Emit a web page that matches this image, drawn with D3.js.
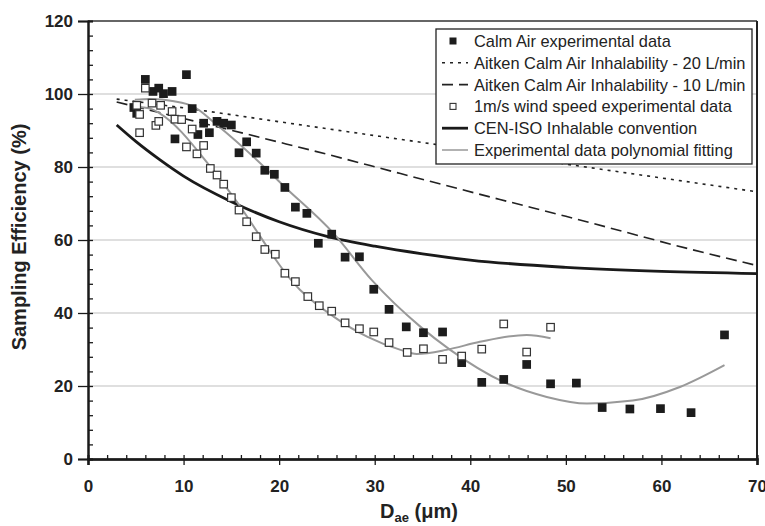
<!DOCTYPE html>
<html>
<head>
<meta charset="utf-8">
<script src="https://cdn.jsdelivr.net/npm/d3@7"></script>
<style>
  body { margin: 0; background: #fff; }
  svg { display: block; font-family: "Liberation Sans", Arial, sans-serif; }
  .tick text { font-weight: bold; font-size: 17px; fill: #222; }
</style>
</head>
<body>
<div id="chart"></div>
<script>
// calm air experimental data [Dae, efficiency]
var calmAir = [[4.8,96.3],[5.1,94.7],[6.0,104],[6.8,100.7],[7.4,101.6],[7.9,100.1],[8.8,100.7],[9.1,87.7],
  [10.3,105.3],[10.9,96],[11.5,88.9],[12.1,92],[12.7,89.4],[13.5,92.5],[14.2,92],[15.0,91.5],[15.8,83.9],
  [16.6,86.9],[17.6,83.8],[18.5,79.1],[19.5,78],[20.6,74.4],[21.7,69],[22.9,67.3],[24.1,59.1],[25.5,61.6],
  [26.9,55.3],[28.4,55.4],[29.9,46.5],[31.5,41],[33.3,36.2],[35.1,34.6],[37.1,34.8],[39.1,26.4],[41.2,21],
  [43.5,21.8],[45.9,25.9],[48.4,20.6],[51.1,20.8],[53.8,14.1],[56.7,13.7],[59.9,13.8],[63.1,12.7],[66.6,34]];

// 1 m/s wind speed experimental data
var windSpeed = [[5.1,96.9],[5.4,94.4],[5.4,89.4],[6.0,101.6],[6.7,97.5],[7.1,91.4],[7.4,92.5],[7.6,96.9],
  [8.8,95.2],[9.1,93.1],[9.8,93.0],[10.3,85.5],[10.9,90.4],[11.4,83.6],[12.1,85.9],[12.8,79.6],[13.5,77.8],
  [14.2,75.3],[15.0,71.6],[15.8,68.2],[16.6,65],[17.6,60.9],[18.5,57.4],[19.6,56.1],[20.6,50.9],[21.7,48.6],
  [23.0,44.5],[24.2,42],[25.5,40.5],[26.9,37.3],[28.4,35.7],[29.9,34.8],[31.5,31.9],[33.4,29.2],[35.1,30.2],
  [37.1,27.3],[39.1,28.2],[41.2,30.1],[43.5,37],[45.9,29.3],[48.4,36.1]];

// curves
var aitken20 = [[3,98.6],[10,96.2],[20,92.4],[30,88.6],[40,84.8],[50,80.8],[60,77],[70,73.2]];
var aitken10 = [[3,97.8],[10,93.3],[20,86.8],[23.2,84.7],[32.7,78.2],[43.1,71.1],[50,66.5],[63.3,57.3],[70,53]];
var cenIso = [[3,91.5],[5,87],[7.5,82],[10,77.5],[15,70.5],[20,65],[25,61],[30,58.3],[35,56.2],[40,54.5],
  [50,52.5],[60,51.4],[70,50.8]];
var calmFit = [[4.9,98.4],[6.5,98.6],[9,98],[11,96.6],[13.5,91.5],[18.4,80.1],[20.4,75],[25.7,61.8],[29.7,49],
  [34.8,36.2],[37.9,29.9],[43.4,21.2],[48,17],[52.2,15.2],[57,16],[62,19.8],[66.6,25.7]];
var windFit = [[4.9,96.5],[6.5,96],[7.5,94.7],[12.8,80.1],[15.2,71.8],[22.2,46.3],[25.7,39],[29.2,33.5],
  [32.7,29.9],[34.4,28.8],[37.5,29.9],[41,32.1],[45.9,34],[48.4,33.1]];

var xTicks = [0, 10, 20, 30, 40, 50, 60, 70];
var yTicks = [0, 20, 40, 60, 80, 100, 120];
var legendLabels = ["Calm Air experimental data", "Aitken Calm Air Inhalability - 20 L/min",
  "Aitken Calm Air Inhalability - 10 L/min", "1m/s wind speed experimental data",
  "CEN-ISO Inhalable convention", "Experimental data polynomial fitting"];

var width = 765, height = 526;
var svg = d3.select("#chart").append("svg")
  .attr("width", width)
  .attr("height", height);

var x = d3.scaleLinear().domain([0, 70]).range([88, 757]);
var y = d3.scaleLinear().domain([0, 120]).range([459, 21]);

// gridlines
svg.append("g")
  .selectAll("line")
  .data(yTicks.filter(function(d) { return d > 0 && d < 120; }))
  .enter().append("line")
  .attr("x1", x(0)).attr("x2", x(70))
  .attr("y1", function(d) { return y(d); })
  .attr("y2", function(d) { return y(d); })
  .attr("stroke", "#d4d4d4")
  .attr("stroke-width", 1.6);

// frame top and right
svg.append("line")
  .attr("x1", x(0)).attr("x2", x(70)).attr("y1", y(120)).attr("y2", y(120))
  .attr("stroke", "#333").attr("stroke-width", 1.5);
svg.append("line")
  .attr("x1", x(70)).attr("x2", x(70)).attr("y1", y(120)).attr("y2", y(0))
  .attr("stroke", "#222").attr("stroke-width", 2);

var line = d3.line()
  .x(function(d) { return x(d[0]); })
  .y(function(d) { return y(d[1]); })
  .curve(d3.curveMonotoneX);

svg.append("path").datum(aitken20)
  .attr("fill", "none").attr("stroke", "#222").attr("stroke-width", 1.6)
  .attr("stroke-dasharray", "3,5").attr("d", line);
svg.append("path").datum(aitken10)
  .attr("fill", "none").attr("stroke", "#222").attr("stroke-width", 1.6)
  .attr("stroke-dasharray", "11,6").attr("d", line);
svg.append("path").datum(cenIso)
  .attr("fill", "none").attr("stroke", "#1a1a1a").attr("stroke-width", 2.8).attr("d", line);
[calmFit, windFit].forEach(function(fit) {
  svg.append("path").datum(fit)
    .attr("fill", "none").attr("stroke", "#999").attr("stroke-width", 2).attr("d", line);
});

// data points
var filled = 8.7, open = 7.5;
svg.append("g").selectAll("rect")
  .data(calmAir)
  .enter().append("rect")
  .attr("x", function(d) { return x(d[0]) - filled / 2; })
  .attr("y", function(d) { return y(d[1]) - filled / 2; })
  .attr("width", filled).attr("height", filled)
  .attr("fill", "#1c1c1c");
svg.append("g").selectAll("rect")
  .data(windSpeed)
  .enter().append("rect")
  .attr("x", function(d) { return x(d[0]) - open / 2; })
  .attr("y", function(d) { return y(d[1]) - open / 2; })
  .attr("width", open).attr("height", open)
  .attr("fill", "#fff").attr("stroke", "#333").attr("stroke-width", 1.2);

// axes: major ticks with labels, minor ticks inside
var xAxis = svg.append("g")
  .attr("transform", "translate(0," + y(0) + ")")
  .call(d3.axisBottom(x).tickValues(xTicks).tickSize(6).tickPadding(15));
svg.append("g")
  .attr("transform", "translate(0," + y(0) + ")")
  .call(d3.axisTop(x).tickValues(d3.range(0, 71, 2)).tickSize(4).tickFormat(""));
var yAxis = svg.append("g")
  .attr("transform", "translate(" + x(0) + ",0)")
  .call(d3.axisLeft(y).tickValues(yTicks).tickSize(10).tickPadding(5));
svg.append("g")
  .attr("transform", "translate(" + x(0) + ",0)")
  .call(d3.axisRight(y).tickValues(d3.range(0, 121, 4)).tickSize(5).tickFormat(""));

svg.selectAll(".domain").attr("stroke", "#1a1a1a").attr("stroke-width", 2);
svg.selectAll(".tick line").attr("stroke", "#1a1a1a").attr("stroke-width", 1.3);
xAxis.select(".domain").attr("stroke-width", 2.6);

// axis titles
svg.append("text")
  .attr("transform", "translate(26,237) rotate(-90)")
  .attr("text-anchor", "middle")
  .attr("font-size", 20).attr("font-weight", "bold").attr("fill", "#222")
  .text("Sampling Efficiency (%)");

var xTitle = svg.append("text")
  .attr("x", 419).attr("y", 518)
  .attr("text-anchor", "middle")
  .attr("font-size", 20).attr("font-weight", "bold").attr("fill", "#222");
xTitle.append("tspan").text("D");
xTitle.append("tspan").attr("font-size", 13).attr("dy", 4).text("ae");
xTitle.append("tspan").attr("dy", -4).text(" (\u03bcm)");

// legend
var legend = svg.append("g");
legend.append("rect")
  .attr("x", 436).attr("y", 29).attr("width", 316).attr("height", 135)
  .attr("fill", "#fff").attr("stroke", "#222").attr("stroke-width", 1.3);

var rowY = function(i) { return 41 + i * 21.8; };
legendLabels.forEach(function(label, i) {
  legend.append("text")
    .attr("x", 474).attr("y", rowY(i) + 6)
    .attr("font-size", 16.4).attr("fill", "#222")
    .text(label);
});
legend.append("rect").attr("x", 449.5).attr("y", rowY(0) - 3.5).attr("width", 7).attr("height", 7).attr("fill", "#1c1c1c");
legend.append("rect").attr("x", 450).attr("y", rowY(3) - 3).attr("width", 6).attr("height", 6)
  .attr("fill", "#fff").attr("stroke", "#333").attr("stroke-width", 1.1);
var legendLine = function(i, color, w, dash) {
  legend.append("line")
    .attr("x1", 442).attr("x2", 468).attr("y1", rowY(i)).attr("y2", rowY(i))
    .attr("stroke", color).attr("stroke-width", w).attr("stroke-dasharray", dash);
};
legendLine(1, "#222", 1.6, "3,5");
legendLine(2, "#222", 1.6, "11,6");
legendLine(4, "#1a1a1a", 2.8, null);
legendLine(5, "#999", 1.5, null);
</script>
</body>
</html>
